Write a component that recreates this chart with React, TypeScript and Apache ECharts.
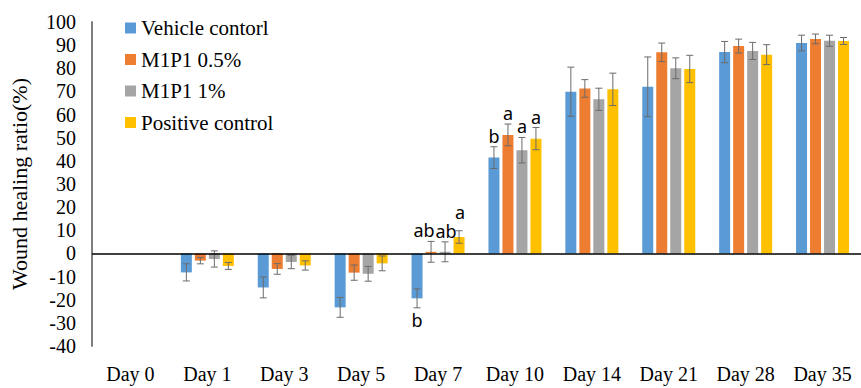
import React, { useEffect, useRef } from "react";
import * as echarts from "echarts";

// Days after wounding
const categories = ["Day 0", "Day 1", "Day 3", "Day 5", "Day 7", "Day 10", "Day 14", "Day 21", "Day 28", "Day 35"];

// Group names
const seriesNames = ["Vehicle contorl", "M1P1 0.5%", "M1P1 1%", "Positive control"];

// Mean wound healing ratio (%) per group
const vehicleMean = [0, -8.2, -14.7, -23.3, -19.4, 41.4, 69.9, 72.0, 87.0, 90.9];
const m1p1HalfMean = [0, -3.1, -6.7, -8.3, 0.7, 51.2, 71.3, 86.9, 89.6, 92.7];
const m1p1OneMean = [0, -2.4, -3.7, -8.8, 0.7, 44.6, 66.6, 80.0, 87.5, 91.9];
const positiveMean = [0, -5.4, -5.2, -4.3, 7.1, 49.6, 70.9, 79.7, 85.9, 91.8];

// Standard deviations
const vehicleSd = [0, 3.7, 4.5, 4.3, 4.1, 4.7, 10.6, 12.9, 4.6, 3.4];
const m1p1HalfSd = [0, 1.4, 2.3, 3.3, 4.5, 4.7, 3.8, 4.0, 3.0, 2.1];
const m1p1OneSd = [0, 3.5, 2.9, 3.2, 4.3, 5.5, 4.8, 4.5, 3.7, 2.4];
const positiveSd = [0, 1.5, 2.0, 3.2, 2.7, 4.8, 7.0, 5.9, 4.3, 1.5];

// Significance letters
const vehicleLetters = ["", "", "", "", "b", "b", "", "", "", ""];
const m1p1HalfLetters = ["", "", "", "", "ab", "a", "", "", "", ""];
const m1p1OneLetters = ["", "", "", "", "ab", "a", "", "", "", ""];
const positiveLetters = ["", "", "", "", "a", "a", "", "", "", ""];

// Y axis ticks
const yMin = -40;
const yMax = 100;
const yStep = 10;

const means = [vehicleMean, m1p1HalfMean, m1p1OneMean, positiveMean];
const sds = [vehicleSd, m1p1HalfSd, m1p1OneSd, positiveSd];
const letters = [vehicleLetters, m1p1HalfLetters, m1p1OneLetters, positiveLetters];
const colors = ["#5B9BD5", "#ED7D31", "#A5A5A5", "#FFC000"];

const BAR_W = 11;
const BAR_GAP = 3;
const SERIF = "Times New Roman, Liberation Serif, serif";
const SANS = "Noto Sans, sans-serif";
// nudges [dx, dy] that keep the crowded Day 7 letters apart
const letterShift: Record<string, [number, number]> = {
  "1:4": [-7, 0],
  "2:4": [1, 0],
  "3:4": [1, -8],
};

export default function App() {
  const ref = useRef<HTMLDivElement>(null);

  useEffect(() => {
    document.body.style.margin = "0";
    if (!ref.current) return;
    const chart = echarts.init(ref.current, null, { renderer: "svg" });

    const barSeries: any[] = seriesNames.map((name, i) => ({
      name,
      type: "bar",
      data: means[i],
      barWidth: BAR_W,
      barGap: `${(BAR_GAP / BAR_W) * 100}%`,
      itemStyle: { color: colors[i] },
      z: 2,
      ...(i === 0
        ? {
            markLine: {
              silent: true,
              symbol: ["none", "none"],
              label: { show: false },
              lineStyle: { color: "#000", width: 1.5, type: "solid" },
              data: [{ yAxis: 0 }],
              z: 5,
            },
          }
        : {}),
    }));

    const errSeries: any[] = seriesNames.map((name, i) => ({
      name: name + " sd",
      type: "custom",
      z: 4,
      data: means[i].map((m, k) => [k, m, sds[i][k]]),
      renderItem: (params: any, api: any) => {
        const k = api.value(0);
        const m = api.value(1);
        const sd = api.value(2);
        const dx = (i - 1.5) * (BAR_W + BAR_GAP);
        const top = api.coord([k, m + sd]);
        const bot = api.coord([k, m - sd]);
        const x = top[0] + dx;
        const children: any[] = [];
        const ls = { stroke: "#6b6b6b", lineWidth: 1 };
        if (sd > 0) {
          children.push(
            { type: "line", shape: { x1: x, y1: top[1], x2: x, y2: bot[1] }, style: ls },
            { type: "line", shape: { x1: x - 3.5, y1: top[1], x2: x + 3.5, y2: top[1] }, style: ls },
            { type: "line", shape: { x1: x - 3.5, y1: bot[1], x2: x + 3.5, y2: bot[1] }, style: ls }
          );
        }
        const txt = letters[i][k];
        if (txt) {
          const [sx, sy] = letterShift[`${i}:${k}`] || [0, 0];
          const above = m >= 0;
          children.push({
            type: "text",
            x: x + sx,
            y: (above ? top[1] - 2 : bot[1] + 3) + sy,
            style: {
              text: txt,
              fill: "#000",
              fontFamily: SANS,
              fontSize: 18,
              align: "center",
              verticalAlign: above ? "bottom" : "top",
            },
          });
        }
        return { type: "group", children };
      },
    }));

    chart.setOption({
      animation: false,
      textStyle: { fontFamily: SERIF },
      grid: { left: 91, right: -7, top: 22, bottom: 42, containLabel: false },
      legend: {
        data: seriesNames,
        orient: "vertical",
        left: 125,
        top: 17,
        padding: 0,
        itemWidth: 11,
        itemHeight: 11,
        itemGap: 9.5,
        textStyle: { fontFamily: SERIF, fontSize: 21, color: "#000", lineHeight: 22 },
        icon: "rect",
      },
      xAxis: {
        type: "category",
        data: categories,
        axisLine: { show: false, onZero: false },
        axisTick: { show: false },
        axisLabel: { color: "#000", fontSize: 20, fontFamily: SERIF, margin: 18 },
      },
      yAxis: {
        type: "value",
        min: yMin,
        max: yMax,
        interval: yStep,
        name: "Wound healing ratio(%)",
        nameLocation: "middle",
        nameRotate: 90,
        nameGap: 62,
        nameTextStyle: { color: "#000", fontSize: 22, fontFamily: SERIF },
        axisLine: { show: true, lineStyle: { color: "#7f7f7f", width: 2 } },
        axisTick: { show: false },
        splitLine: { show: false },
        axisLabel: { color: "#000", fontSize: 20, fontFamily: SERIF, margin: 16 },
      },
      series: [...barSeries, ...errSeries],
    });

    return () => chart.dispose();
  }, []);

  return <div ref={ref} style={{ width: 861, height: 388 }} />;
}
